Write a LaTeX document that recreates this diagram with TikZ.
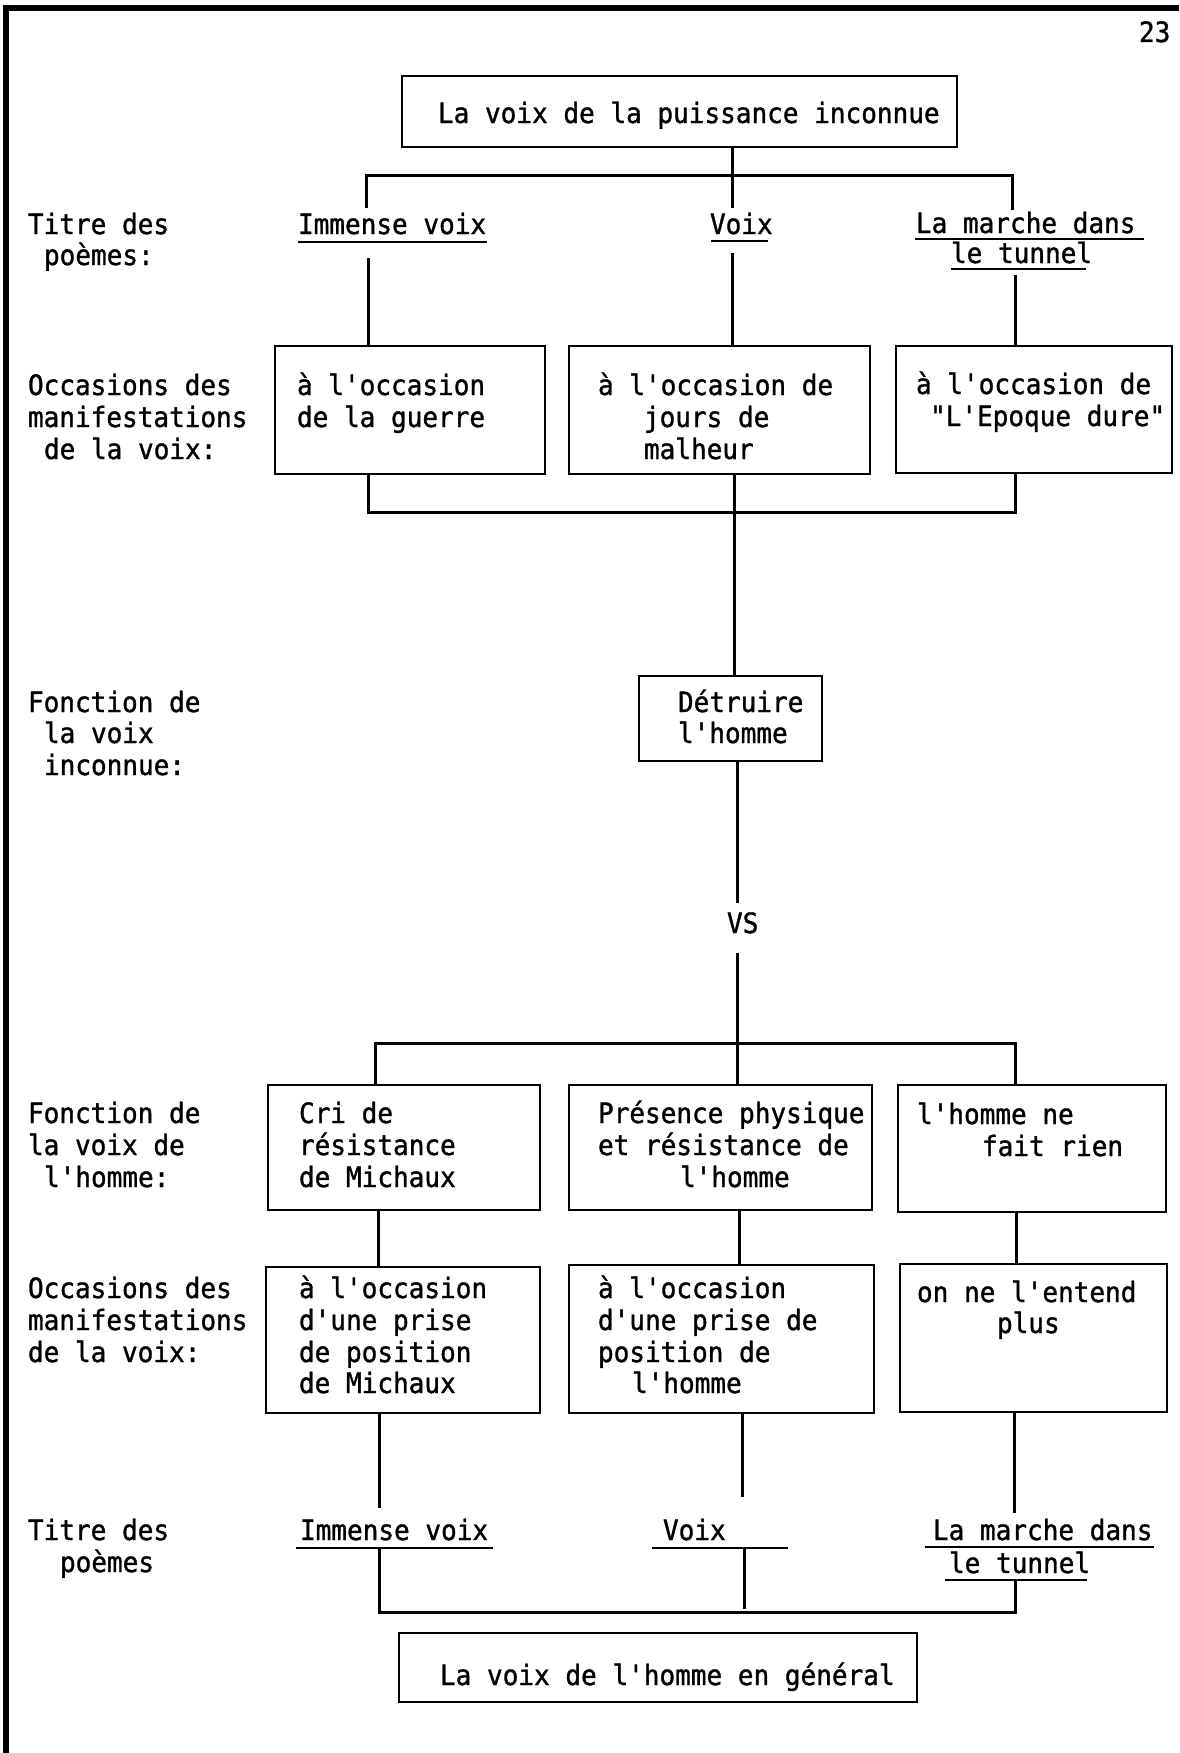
\documentclass[tikz,border=0pt]{standalone}
\usepackage{fontspec}
\newfontfamily\tw[FakeBold=1.2,FakeStretch=0.93]{DejaVu Sans Mono}
\begin{document}
\begin{tikzpicture}[x=1pt,y=-1pt,
  txt/.style={font=\tw\fontsize{28}{32}\selectfont, inner sep=0pt, outer sep=0pt, anchor=base west},
  boxst/.style={draw, line width=2.8pt, inner sep=0pt, outer sep=0pt, anchor=north west},
  link/.style={line width=3pt},
  uline/.style={line width=2.6pt},
  framest/.style={line width=5.5pt}]
\useasboundingbox (0,0) rectangle (1179,1753);

% frame
\coordinate (fTR) at (1179,8);
\coordinate (fTL) at (6,8);
\coordinate (fBL) at (6,1753);
\draw[framest] (fTR) -- (fTL) -- (fBL);

\node[txt] (pg) at (1139,42) {23};

% ---------- boxes ----------
\node[boxst, minimum width=555pt, minimum height=71pt] (top) at (402,76) {};
\node[boxst, minimum width=270pt, minimum height=128pt] (r3a) at (275,346) {};
\node[boxst, minimum width=301pt, minimum height=128pt] (r3b) at (569,346) {};
\node[boxst, minimum width=276pt, minimum height=127pt] (r3c) at (896,346) {};
\node[boxst, minimum width=183pt, minimum height=85pt] (det) at (639,676) {};
\node[boxst, minimum width=272pt, minimum height=125pt] (r4a) at (268,1085) {};
\node[boxst, minimum width=303pt, minimum height=125pt] (r4b) at (569,1085) {};
\node[boxst, minimum width=268pt, minimum height=127pt] (r4c) at (898,1085) {};
\node[boxst, minimum width=274pt, minimum height=146pt] (r5a) at (266,1267) {};
\node[boxst, minimum width=305pt, minimum height=148pt] (r5b) at (569,1265) {};
\node[boxst, minimum width=267pt, minimum height=148pt] (r5c) at (900,1264) {};
\node[boxst, minimum width=518pt, minimum height=69pt] (bot) at (399,1633) {};

% ---------- box texts ----------
\node[txt] (tTop) at (438,123) {La voix de la puissance inconnue};

\node[txt] (a31) at (297,395) {à l'occasion};
\node[txt] (a32) at (297,427) {de la guerre};
\node[txt] (b31) at (598,395) {à l'occasion de};
\node[txt] (b32) at (644,427) {jours de};
\node[txt] (b33) at (644,459) {malheur};
\node[txt] (c31) at (916,394) {à l'occasion de};
\node[txt] (c32) at (930,426) {"L'Epoque dure"};

\node[txt] (d1) at (678,712) {Détruire};
\node[txt] (d2) at (678,743) {l'homme};
\node[txt] (vs) at (727,933) {VS};

\node[txt] (a41) at (299,1123) {Cri de};
\node[txt] (a42) at (299,1155) {résistance};
\node[txt] (a43) at (299,1187) {de Michaux};
\node[txt] (b41) at (598,1123) {Présence physique};
\node[txt] (b42) at (598,1155) {et résistance de};
\node[txt] (b43) at (680,1187) {l'homme};
\node[txt] (c41) at (917,1124) {l'homme ne};
\node[txt] (c42) at (982,1156) {fait rien};

\node[txt] (a51) at (299,1298) {à l'occasion};
\node[txt] (a52) at (299,1330) {d'une prise};
\node[txt] (a53) at (299,1362) {de position};
\node[txt] (a54) at (299,1393) {de Michaux};
\node[txt] (b51) at (598,1298) {à l'occasion};
\node[txt] (b52) at (598,1330) {d'une prise de};
\node[txt] (b53) at (598,1362) {position de};
\node[txt] (b54) at (632,1393) {l'homme};
\node[txt] (c51) at (917,1302) {on ne l'entend};
\node[txt] (c52) at (997,1333) {plus};

\node[txt] (tBot) at (440,1685) {La voix de l'homme en général};

% ---------- left labels ----------
\node[txt] (L1a) at (28,234) {Titre des};
\node[txt] (L1b) at (44,265) {poèmes:};
\node[txt] (L2a) at (28,395) {Occasions des};
\node[txt] (L2b) at (28,427) {manifestations};
\node[txt] (L2c) at (44,459) {de la voix:};
\node[txt] (L3a) at (28,712) {Fonction de};
\node[txt] (L3b) at (44,743) {la voix};
\node[txt] (L3c) at (44,775) {inconnue:};
\node[txt] (L4a) at (28,1123) {Fonction de};
\node[txt] (L4b) at (28,1155) {la voix de};
\node[txt] (L4c) at (44,1187) {l'homme:};
\node[txt] (L5a) at (28,1298) {Occasions des};
\node[txt] (L5b) at (28,1330) {manifestations};
\node[txt] (L5c) at (28,1362) {de la voix:};
\node[txt] (L6a) at (28,1540) {Titre des};
\node[txt] (L6b) at (60,1572) {poèmes};

% ---------- poem titles (row 2) ----------
\node[txt] (p2a) at (298,234) {Immense voix};
\node[txt] (p2b) at (710,234) {Voix};
\node[txt] (p2c1) at (916,233) {La marche dans};
\node[txt] (p2c2) at (951,263) {le tunnel};
\draw[uline] (298,242) -- (487,242);
\draw[uline] (711,241) -- (768,241);
\draw[uline] (915,239) -- (1144,239);
\draw[uline] (951,269) -- (1086,269);

% ---------- poem titles (row 6) ----------
\node[txt] (p6a) at (300,1540) {Immense voix};
\node[txt] (p6b) at (663,1540) {Voix};
\node[txt] (p6c1) at (933,1540) {La marche dans};
\node[txt] (p6c2) at (949,1573) {le tunnel};
\coordinate (u6aL) at (296,1548); \coordinate (u6aR) at (493,1548);
\coordinate (u6bL) at (652,1548); \coordinate (u6bR) at (788,1548);
\coordinate (u6cL) at (925,1547); \coordinate (u6cR) at (1154,1547);
\coordinate (u6dL) at (945,1580); \coordinate (u6dR) at (1087,1580);
\draw[uline] (u6aL) -- (u6aR);
\draw[uline] (u6bL) -- (u6bR);
\draw[uline] (u6cL) -- (u6cR);
\draw[uline] (u6dL) -- (u6dR);

% ---------- connectors ----------
% bracket below top box
\coordinate (k1L) at (366,175);
\coordinate (k1R) at (1012,175);
\coordinate (t1L) at (366,208);
\coordinate (t1M) at (732,208);
\coordinate (t1R) at (1012,210);
\draw[link] (t1L) -- (k1L) -- (k1R) -- (t1R);
\draw[link] (top.south -| t1M) -- (t1M);

% titles to row-3 boxes
\coordinate (s2A) at (368,258);
\coordinate (s2B) at (732,253);
\coordinate (s2C) at (1015,275);
\draw[link] (s2A) -- (s2A |- r3a.north);
\draw[link] (s2B) -- (s2B |- r3b.north);
\draw[link] (s2C) -- (s2C |- r3c.north);

% bracket below row 3
\coordinate (k2L) at (368,512);
\coordinate (k2R) at (1015,512);
\coordinate (x3B) at (734,512);
\draw[link] (k2L |- r3a.south) -- (k2L) -- (k2R) -- (k2R |- r3c.south);
\draw[link] (x3B |- r3b.south) -- (x3B |- det.north);

% Detruire to VS to row 4
\coordinate (vsT) at (737,903);
\coordinate (vsB) at (737,953);
\draw[link] (vsT |- det.south) -- (vsT);
\draw[link] (vsB) -- (vsB |- r4b.north);

% bracket above row 4
\coordinate (k3L) at (375,1043);
\coordinate (k3R) at (1015,1043);
\draw[link] (k3L |- r4a.north) -- (k3L) -- (k3R) -- (k3R |- r4c.north);

% row 4 to row 5
\coordinate (x45A) at (378,1240);
\coordinate (x45B) at (739,1240);
\coordinate (x45C) at (1016,1240);
\draw[link] (x45A |- r4a.south) -- (x45A |- r5a.north);
\draw[link] (x45B |- r4b.south) -- (x45B |- r5b.north);
\draw[link] (x45C |- r4c.south) -- (x45C |- r5c.north);

% row 5 to titles
\coordinate (e5A) at (379,1508);
\coordinate (e5B) at (742,1497);
\coordinate (e5C) at (1014,1513);
\draw[link] (e5A |- r5a.south) -- (e5A);
\draw[link] (e5B |- r5b.south) -- (e5B);
\draw[link] (e5C |- r5c.south) -- (e5C);

% titles to final bracket
\coordinate (k4L) at (379,1612);
\coordinate (k4R) at (1015,1612);
\coordinate (k4M) at (744,1609);
\draw[link] (k4L |- u6aL) -- (k4L) -- (k4R) -- (k4R |- u6dL);
\draw[link] (k4M |- u6bL) -- (k4M);
\end{tikzpicture}
\end{document}
